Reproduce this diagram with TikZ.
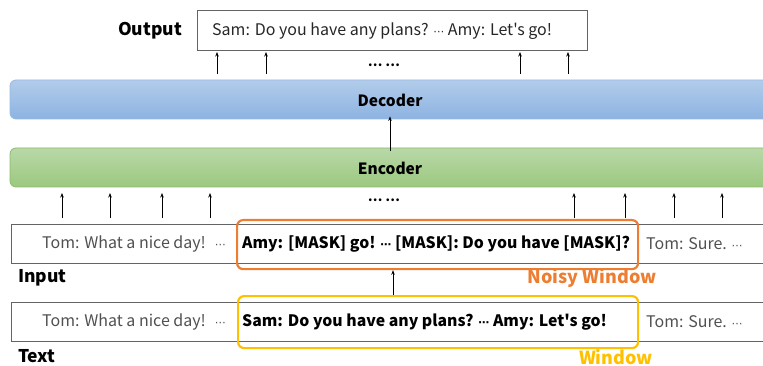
\documentclass[tikz,border=0pt]{standalone}
\usepackage{fontspec}
\setmainfont[Ligatures=TeXOff]{Noto Sans CJK SC}
\newfontfamily\dvf{DejaVu Sans}
\newcommand{\mdots}{{\dvf\fontsize{11}{11}\selectfont ⋯}}
\usetikzlibrary{arrows.meta}
\definecolor{decTop}{RGB}{178,204,234}
\definecolor{decBot}{RGB}{141,179,226}
\definecolor{decLine}{RGB}{150,185,228}
\definecolor{encTop}{RGB}{185,216,168}
\definecolor{encBot}{RGB}{155,200,126}
\definecolor{encLine}{RGB}{140,188,110}
\definecolor{winOrange}{RGB}{237,125,49}
\definecolor{winYellow}{RGB}{255,192,0}
\definecolor{boxLine}{RGB}{100,100,100}
\definecolor{lightText}{RGB}{80,80,80}
\tikzset{
  arr/.style={-{Stealth[length=4.5pt,width=3.5pt]}, line width=0.7pt, black},
  seqbox/.style={draw=boxLine, line width=0.8pt, rectangle, inner sep=0pt},
  bar/.style={rectangle, rounded corners=6pt, inner sep=0pt, line width=0.8pt},
  lite/.style={font=\fontsize{16}{18}\selectfont, text=lightText, anchor=west, inner sep=0pt},
  boldt/.style={font=\fontsize{15.8}{18}\selectfont\bfseries, anchor=west, inner sep=0pt},
  lab/.style={font=\fontsize{17.5}{20}\selectfont\bfseries, inner sep=0pt},
  winlab/.style={font=\fontsize{18}{20}\selectfont\bfseries, inner sep=0pt},
  barlab/.style={font=\fontsize{15.5}{18}\selectfont\bfseries, inner sep=0pt},
  win/.style={rectangle, rounded corners=6pt, line width=2.2pt, inner sep=0pt},
  dots/.style={font=\fontsize{13}{15}\selectfont\bfseries, inner sep=0pt}
}
\begin{document}
\begin{tikzpicture}[x=1pt,y=-1pt]
\useasboundingbox (0,0) rectangle (763,366);
\clip (0,0) rectangle (763,366);
% output
\node[lab] (outlab) at (150,31) {Output};
\node[seqbox, minimum width=390pt, minimum height=40pt] (outbox) at (392,30) {};
\node[lite, font=\fontsize{16}{18}\selectfont, text=black!85] (outtxt) at (212,31) {Sam: Do you have any plans? \mdots\ Amy: Let's go!};
\foreach \x in {217,266,520,568} \draw[arr] (\x,74) -- (\x,52);
\node[dots] (dd1) at (384,65) {… …};
% decoder
\node[bar, draw=decLine, top color=decTop, bottom color=decBot, minimum width=770pt, minimum height=39pt] (dec) at (395,99.5) {};
\node[barlab] (dectxt) at (390,100) {Decoder};
% encoder
\node[bar, draw=encLine, top color=encTop, bottom color=encBot, minimum width=770pt, minimum height=39pt] (enc) at (395,167.5) {};
\node[barlab] (enctxt) at (390,168) {Encoder};
\draw[arr] ([yshift=-3pt]enc.north -| dectxt.south) -- ([yshift=3pt]dec.south -| dectxt.south);
\foreach \x in {62,110,162,210,574,625,674,722} \draw[arr] (\x,218) -- (\x,193);
\node[dots] (dd2) at (384,200) {… …};
% input row
\node[seqbox, minimum width=770pt, minimum height=39pt, anchor=north west] (inbox) at (11,224) {};
\node[lite] (in1) at (42,244) {Tom: What a nice day!\hspace{9pt}\mdots};
\node[boldt] (in2) at (242,244) {Amy: [MASK] go! \mdots\ [MASK]: Do you have [MASK]?};
\node[lite] (in3) at (646,244) {Tom: Sure. \mdots};
\node[win, draw=winOrange, minimum width=401pt, minimum height=49pt, anchor=north west] (noisy) at (236,219) {};
\node[lab, anchor=west] (inlab) at (18,278) {Input};
\node[winlab, text=winOrange] (noisylab) at (592,278) {Noisy Window};
% text row
\node[seqbox, minimum width=770pt, minimum height=39pt, anchor=north west] (txtbox) at (11,302) {};
\node[lite] (t1) at (42,322) {Tom: What a nice day!\hspace{9pt}\mdots};
\node[boldt] (t2) at (242,322) {Sam: Do you have any plans? \mdots\ Amy: Let's go!};
\node[lite] (t3) at (646,322) {Tom: Sure. \mdots};
\node[win, draw=winYellow, minimum width=400pt, minimum height=52pt, anchor=north west] (window) at (237,295) {};
\node[lab, anchor=west] (txtlab) at (18,356) {Text};
\node[winlab, text=winYellow] (winlab) at (616,357) {Window};
\draw[arr] (window.north -| 393,0) -- (noisy.south -| 393,0);
\end{tikzpicture}
\end{document}
